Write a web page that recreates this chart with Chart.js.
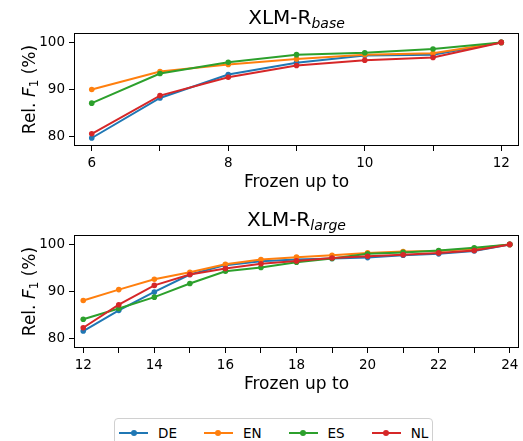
<!DOCTYPE html>
<html>
<head>
<meta charset="utf-8">
<script src="https://cdn.jsdelivr.net/npm/chart.js@4"></script>
<style>
  body { margin: 0; background: #fff; width: 523px; height: 441px; overflow: hidden; position: relative; font-family: "DejaVu Sans", sans-serif; }
  canvas { position: absolute; left: 0; }
  #canvasOben { top: 0; }
  #canvasUnten { top: 202px; }
  #legende {
    position: absolute; left: 114px; top: 418px; height: 30px;
    border: 1px solid #d0d0d0; border-radius: 4px; box-sizing: border-box;
    display: flex; align-items: center; padding-left: 4px; padding-right: 4px;
    font-size: 13.5px; color: #000; background: #fff;
  }
  .eintrag { display: flex; align-items: center; margin-right: 27px; }
  .eintrag:last-child { margin-right: 0; }
  .linie { position: relative; width: 29px; height: 2px; margin-right: 10px; }
  .punkt { position: absolute; left: 11.5px; top: -2px; width: 6px; height: 6px; border-radius: 50%; }
</style>
</head>
<body>
<canvas id="canvasOben" width="523" height="200"></canvas>
<canvas id="canvasUnten" width="523" height="200"></canvas>
<div id="legende"></div>
<script>
// Sprachen und Farben
const sprachen = ["DE", "EN", "ES", "NL"];
const farben = ["#1f77b4", "#ff7f0e", "#2ca02c", "#d62728"];

// XLM-R base: eingefrorene Schichten
const frozenBase = [6, 7, 8, 9, 10, 11, 12];
const baseDE = [79.7, 88.2, 93.2, 95.7, 97.2, 97.4, 100];
const baseEN = [90.0, 93.8, 95.3, 96.5, 97.4, 97.7, 100];
const baseES = [87.1, 93.4, 95.8, 97.4, 97.8, 98.6, 100];
const baseNL = [80.6, 88.7, 92.6, 95.1, 96.2, 96.8, 100];

// XLM-R large
const frozenLarge = [12, 13, 14, 15, 16, 17, 18, 19, 20, 21, 22, 23, 24];
const largeDE = [81.6, 86.0, 89.9, 93.6, 95.6, 96.4, 96.8, 97.0, 97.2, 97.7, 98.0, 98.6, 100];
const largeEN = [88.1, 90.4, 92.6, 94.1, 95.8, 96.8, 97.3, 97.7, 98.2, 98.5, 98.6, 99.1, 100];
const largeES = [84.1, 86.4, 88.8, 91.7, 94.3, 95.1, 96.2, 97.0, 98.0, 98.3, 98.7, 99.3, 100];
const largeNL = [82.3, 87.2, 91.3, 93.6, 94.9, 95.9, 96.5, 97.1, 97.5, 97.8, 98.2, 98.7, 100];

// Achsenbeschriftungen
const yTicks = [80, 90, 100];
const xTitel = "Frozen up to";

Chart.defaults.font.family = "'DejaVu Sans', sans-serif";
Chart.defaults.color = "#000";

// Rahmen um die Zeichenflaeche, Titel mit Index und y-Beschriftung
const mplText = {
  id: "mplText",
  afterDraw(chart, args, opts) {
    const ctx = chart.ctx;
    const a = chart.chartArea;
    ctx.save();
    ctx.strokeStyle = "#000";
    ctx.lineWidth = 1;
    ctx.strokeRect(Math.round(a.left) + 0.5, Math.round(a.top) + 0.5,
      Math.round(a.right - a.left) - 1, Math.round(a.bottom - a.top) - 1);

    // Titel
    ctx.fillStyle = "#000";
    ctx.textBaseline = "alphabetic";
    ctx.textAlign = "left";
    const f1 = "20px 'DejaVu Sans'";
    const f2 = "italic 14px 'DejaVu Sans'";
    ctx.font = f1;
    const w1 = ctx.measureText(opts.titel).width;
    ctx.font = f2;
    const w2 = ctx.measureText(opts.index).width;
    let x = (a.left + a.right) / 2 - (w1 + w2) / 2;
    ctx.font = f1;
    ctx.fillText(opts.titel, x, 24);
    ctx.font = f2;
    ctx.fillText(opts.index, x + w1, 28);

    // y-Achse "Rel. F1 (%)"
    const teile = [
      ["Rel. ", "17px 'DejaVu Sans'", 0],
      ["F", "italic 17px 'DejaVu Sans'", 0],
      ["1", "12px 'DejaVu Sans'", 3],
      [" (%)", "17px 'DejaVu Sans'", 0],
    ];
    let gesamt = 0;
    teile.forEach(function (t) { ctx.font = t[1]; gesamt += ctx.measureText(t[0]).width; });
    ctx.translate(34.5, (a.top + a.bottom) / 2);
    ctx.rotate(-Math.PI / 2);
    let px = -gesamt / 2;
    teile.forEach(function (t) {
      ctx.font = t[1];
      ctx.fillText(t[0], px, t[2]);
      px += ctx.measureText(t[0]).width;
    });
    ctx.restore();
  },
};

function erstelleDatensaetze(xWerte, reihen) {
  return reihen.map(function (werte, i) {
    return {
      label: sprachen[i],
      data: werte.map(function (y, j) { return { x: xWerte[j], y: y }; }),
      borderColor: farben[i],
      backgroundColor: farben[i],
      borderWidth: 2,
      pointRadius: 2.8,
      pointBorderWidth: 0,
      pointBackgroundColor: farben[i],
      tension: 0,
      order: reihen.length - i,
    };
  });
}

function erstelleDiagramm(canvasID, xWerte, reihen, titel, index) {
  const xMin = xWerte[0] - 0.26;
  const xMax = xWerte[xWerte.length - 1] + 0.26;
  const canvas = document.getElementById(canvasID).getContext("2d");
  return new Chart(canvas, {
    type: "line",
    data: { datasets: erstelleDatensaetze(xWerte, reihen) },
    plugins: [mplText],
    options: {
      responsive: false,
      animation: false,
      devicePixelRatio: 1,
      layout: { padding: { left: 0, right: 2, top: 33, bottom: 7 } },
      plugins: {
        legend: { display: false },
        tooltip: { enabled: false },
        mplText: { titel: titel, index: index },
      },
      scales: {
        x: {
          type: "linear",
          min: xMin,
          max: xMax,
          afterBuildTicks: function (scale) {
            scale.ticks = xWerte.map(function (v) { return { value: v }; });
          },
          afterFit: function (scale) { scale.height = 47; },
          ticks: {
            autoSkip: false,
            maxRotation: 0,
            padding: 4,
            font: { size: 13.5 },
            callback: function (v) { return v % 2 === 0 ? String(v) : ""; },
          },
          grid: { drawOnChartArea: false, drawTicks: true, tickLength: 5, color: "#000" },
          border: { display: false },
          title: { display: true, text: xTitel, font: { size: 17 }, padding: 0 },
        },
        y: {
          min: 78,
          max: 102,
          afterBuildTicks: function (scale) {
            scale.ticks = yTicks.map(function (v) { return { value: v }; });
          },
          afterFit: function (scale) { scale.width = 74; },
          ticks: { padding: 4, font: { size: 13.5 } },
          grid: { drawOnChartArea: false, drawTicks: true, tickLength: 5, color: "#000" },
          border: { display: false },
        },
      },
    },
  });
}

window.chartOben = erstelleDiagramm("canvasOben", frozenBase, [baseDE, baseEN, baseES, baseNL], "XLM-R", "base");
window.chartUnten = erstelleDiagramm("canvasUnten", frozenLarge, [largeDE, largeEN, largeES, largeNL], "XLM-R", "large");

// Legende als HTML
const legende = document.getElementById("legende");
sprachen.forEach(function (s, i) {
  const e = document.createElement("div");
  e.className = "eintrag";
  e.innerHTML = '<span class="linie" style="background:' + farben[i] + '"><span class="punkt" style="background:' +
    farben[i] + '"></span></span><span>' + s + "</span>";
  legende.appendChild(e);
});
</script>
</body>
</html>
